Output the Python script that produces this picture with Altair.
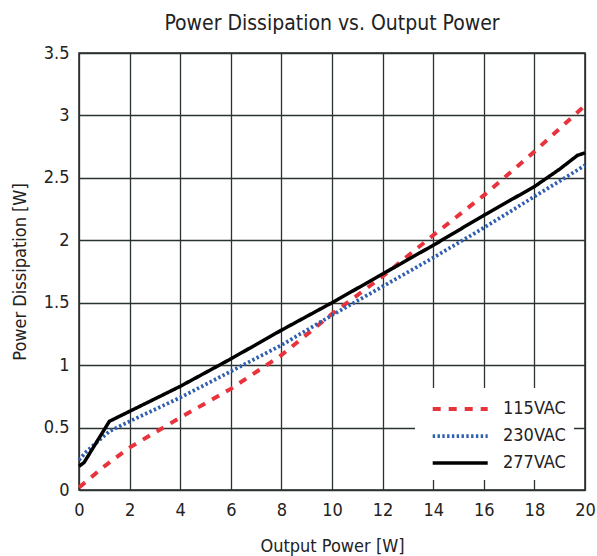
import altair as alt
import pandas as pd

series_names = ["115VAC", "230VAC", "277VAC"]

x_115 = [0, 1, 2, 4, 6, 8, 10, 12, 14, 16, 18, 20]
y_115 = [0.02, 0.19, 0.34, 0.58, 0.81, 1.08, 1.41, 1.71, 2.04, 2.36, 2.71, 3.08]

x_230 = [0, 0.3, 1.2, 2, 4, 6, 8, 10, 12, 14, 16, 18, 20]
y_230 = [0.24, 0.31, 0.47, 0.55, 0.74, 0.95, 1.16, 1.40, 1.63, 1.86, 2.10, 2.35, 2.60]

x_277 = [0, 0.2, 1.2, 2, 4, 6, 8, 10, 12, 14, 16, 18, 19, 19.7, 20]
y_277 = [0.19, 0.22, 0.55, 0.63, 0.83, 1.05, 1.28, 1.50, 1.73, 1.96, 2.20, 2.43, 2.57, 2.68, 2.70]

rows = []
for name, xs, ys in zip(series_names, [x_115, x_230, x_277], [y_115, y_230, y_277]):
    for i, (a, b) in enumerate(zip(xs, ys)):
        rows.append({"series": name, "x": a, "y": b, "order": i})
df = pd.DataFrame(rows)

FONT = "Liberation Sans Narrow, DejaVu Sans Condensed, Roboto, sans-serif"

color_scale = alt.Scale(domain=series_names, range=["#e8333c", "#2f5fae", "#000000"])
dash_scale = alt.Scale(domain=series_names, range=[[8, 8], [2.4, 2.4], [1, 0]])
width_scale = alt.Scale(domain=series_names, range=[4, 3.5, 4])

legend = alt.Legend(
    title=None,
    orient="none",
    legendX=336,
    legendY=335,
    fillColor="white",
    padding=8,
    symbolType="M-0.3,0H4.7",
    symbolSize=484,
    symbolStrokeWidth=4,
    symbolOffset=0,
    labelFontSize=18,
    labelFont=FONT,
    labelColor="#222",
    rowPadding=5,
    labelOffset=54,
)

chart = alt.Chart(df).mark_line(strokeCap="butt").encode(
    x=alt.X("x:Q", scale=alt.Scale(domain=[0, 20], nice=False),
            axis=alt.Axis(values=list(range(0, 21, 2)), title="Output Power [W]", format="~g")),
    y=alt.Y("y:Q", scale=alt.Scale(domain=[0, 3.5], nice=False),
            axis=alt.Axis(values=[0, 0.5, 1, 1.5, 2, 2.5, 3, 3.5], title="Power Dissipation [W]", format="~g")),
    color=alt.Color("series:N", scale=color_scale, legend=legend),
    strokeDash=alt.StrokeDash("series:N", scale=dash_scale, legend=legend),
    strokeWidth=alt.StrokeWidth("series:N", scale=width_scale, legend=None),
    order="order:Q",
).properties(
    width=506,
    height=437,
    title=alt.TitleParams("Power Dissipation vs. Output Power", fontSize=21, font=FONT,
                          fontWeight="normal", color="#222", offset=10),
    autosize=alt.AutoSizeParams(type="none"),
    padding={"left": 79, "top": 53, "right": 12, "bottom": 66},
).configure_view(
    stroke="#222", strokeWidth=1.5
).configure_axis(
    grid=True, gridColor="#2b3330", gridWidth=1.3, gridOpacity=1,
    domain=False, ticks=False, labelFlush=False,
    labelFont=FONT, labelFontSize=18, labelColor="#222",
    titleFont=FONT, titleFontSize=18, titleFontWeight="normal", titleColor="#222",
).configure_axisX(
    labelPadding=11, titlePadding=18
).configure_axisY(
    labelPadding=10, titlePadding=14
)

chart.save("out.html", embed_options={"renderer": "svg", "actions": False})
